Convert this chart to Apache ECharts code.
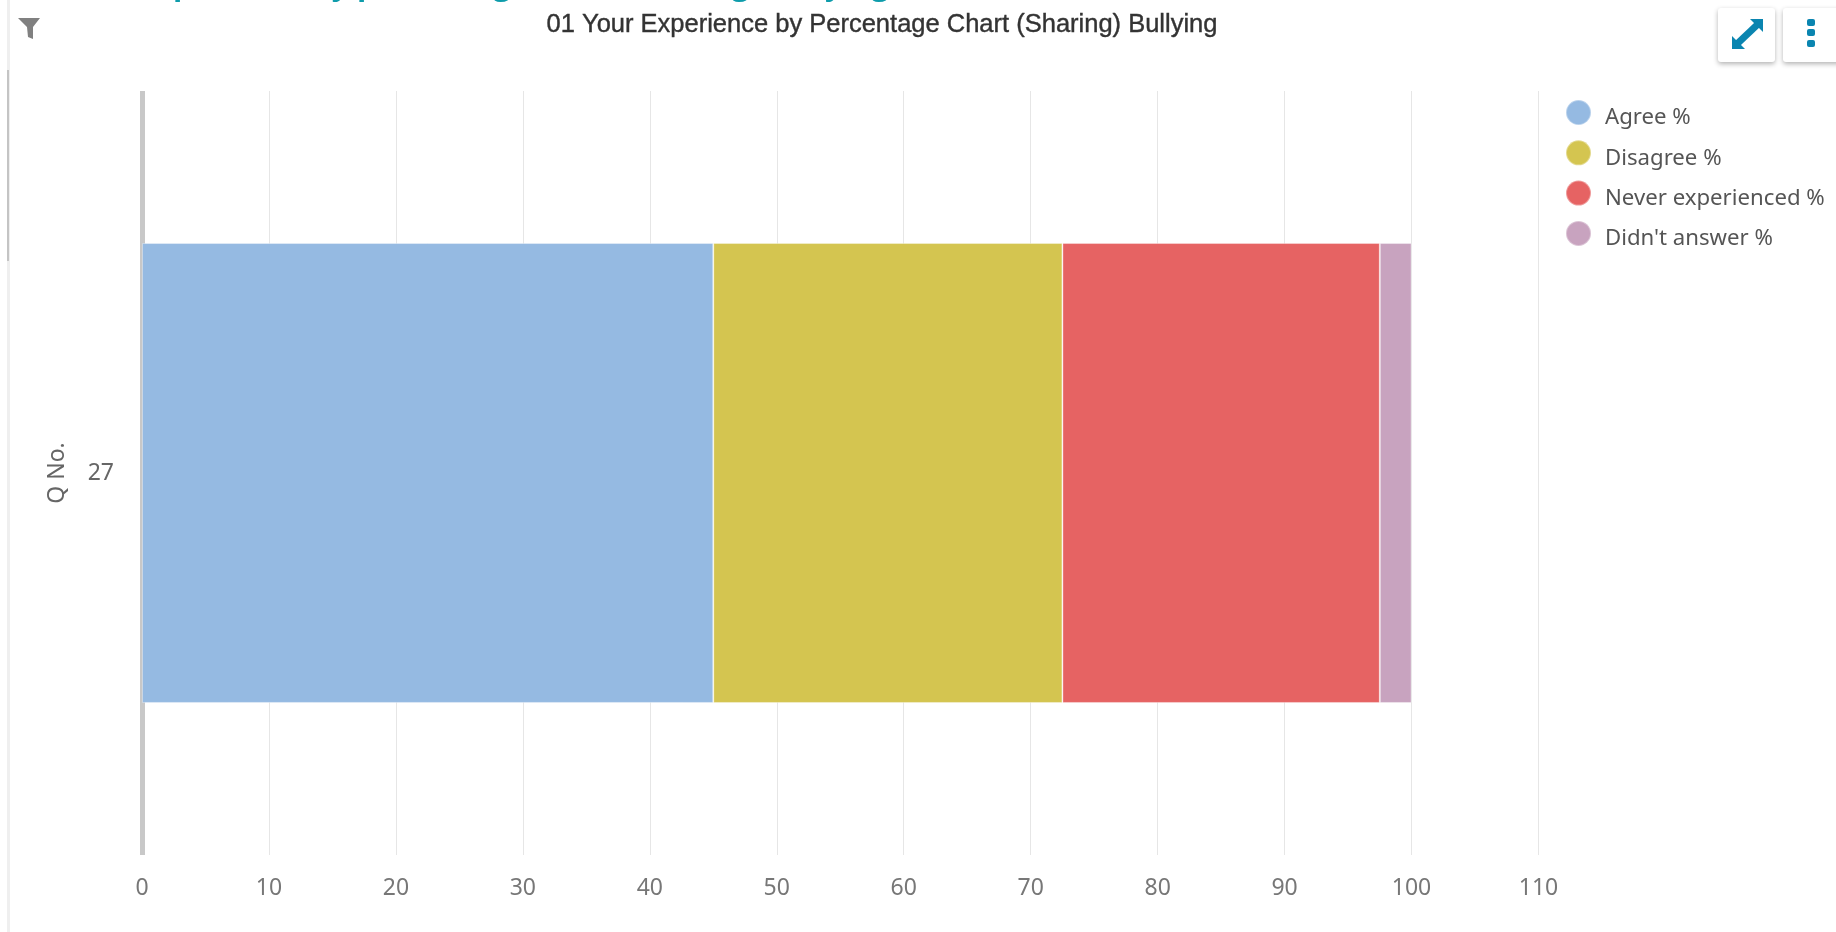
<!DOCTYPE html>
<html><head><meta charset="utf-8">
<style>html,body{margin:0;padding:0;background:#fff;overflow:hidden}#c{width:1836px;height:932px}</style>
<script src="https://cdn.jsdelivr.net/npm/echarts@6/dist/echarts.min.js"></script>
</head><body><div id="c"></div>
<script>
const categories = ['27'];
const seriesNames = ['Agree %', 'Disagree %', 'Never experienced %', "Didn't answer %"];
const agree = [45];
const disagree = [27.5];
const neverExperienced = [25];
const didntAnswer = [2.5];
const seriesColors = ['#95BAE2', '#D4C550', '#E66363', '#C8A3BF'];
const allValues = [agree, disagree, neverExperienced, didntAnswer];
const titleText = '01 Your Experience by Percentage Chart (Sharing) Bullying';
const headerText = 'Your experience by percentage chart (sharing) bullying';
const yName = 'Q No.';
const font = '"Noto Sans"';
const chart = echarts.init(document.getElementById('c'), null, {renderer:'canvas'});
chart.setOption({
  animation:false,
  backgroundColor:'#fff',
  title:{text:titleText,left:877,textAlign:'center',top:7,textStyle:{fontFamily:'"Liberation Sans"',fontSize:25.5,fontWeight:'normal',color:'#333',textBorderColor:'#333',textBorderWidth:0.4}},
  legend:{orient:'vertical',left:1560,top:94,itemWidth:25,itemHeight:25,itemGap:10.3,icon:'circle',
    data:seriesNames,formatter:'{t|{name}}',
    textStyle:{rich:{t:{fontFamily:font,fontSize:22.2,color:'#555',padding:[11,0,0,9]}}}},
  grid:{left:142,right:297.5,top:91,bottom:77,containLabel:false},
  xAxis:{type:'value',min:0,max:110,interval:10,
    axisLine:{show:false},axisTick:{show:false},
    axisLabel:{margin:22,fontFamily:font,fontSize:23,color:'#777'},
    splitLine:{show:true,lineStyle:{color:'#e6e6e6',width:1}}},
  yAxis:{type:'category',data:categories,name:yName,nameLocation:'middle',nameGap:73,nameRotate:90,
    nameTextStyle:{fontFamily:font,fontSize:23,color:'#666'},
    axisLine:{show:true,lineStyle:{color:'#c8c8c8',width:5,cap:'butt'}},axisTick:{show:false},
    axisLabel:{margin:28,fontFamily:font,fontSize:23,color:'#666'},splitLine:{show:false}},
  series:seriesNames.map((n,i)=>({name:n,type:'bar',stack:'total',barWidth:'60.2%',data:allValues[i],
    itemStyle:{color:seriesColors[i],borderColor:'rgba(255,255,255,0.35)',borderWidth:1}})),
  graphic:[
    {type:'text',x:58,y:-29,style:{text:headerText,font:'bold 30.4px "Open Sans"',fill:'#0E9CAB'}},
    {type:'rect',shape:{x:7,y:0,width:3,height:932},style:{fill:'#efefef'}},
    {type:'rect',shape:{x:7,y:70,width:2,height:191},style:{fill:'#c4c4c4'}},
    {type:'polygon',shape:{points:[[18,18],[40,18],[33,27],[33,39],[28,37],[27,27]]},style:{fill:'#808080'}},
    {type:'rect',shape:{x:1718,y:8,width:57,height:54,r:3},style:{fill:'#fff',shadowBlur:5,shadowColor:'rgba(0,0,0,0.3)',shadowOffsetY:2}},
    {type:'rect',shape:{x:1783,y:8,width:70,height:54,r:3},style:{fill:'#fff',shadowBlur:5,shadowColor:'rgba(0,0,0,0.3)',shadowOffsetY:2}},
    {type:'polygon',shape:{points:[[1750,19],[1763,19],[1763,32]]},style:{fill:'#0A85B0'}},
    {type:'polygon',shape:{points:[[1732,49],[1745,49],[1732,36]]},style:{fill:'#0A85B0'}},
    {type:'line',shape:{x1:1738,y1:43,x2:1757,y2:25},style:{stroke:'#0A85B0',lineWidth:7}},
    {type:'rect',shape:{x:1807,y:19,width:8,height:7,r:2},style:{fill:'#0A85B0'}},
    {type:'rect',shape:{x:1807,y:29,width:8,height:7,r:2},style:{fill:'#0A85B0'}},
    {type:'rect',shape:{x:1807,y:40,width:8,height:7,r:2},style:{fill:'#0A85B0'}}
  ]
});
</script></body></html>
